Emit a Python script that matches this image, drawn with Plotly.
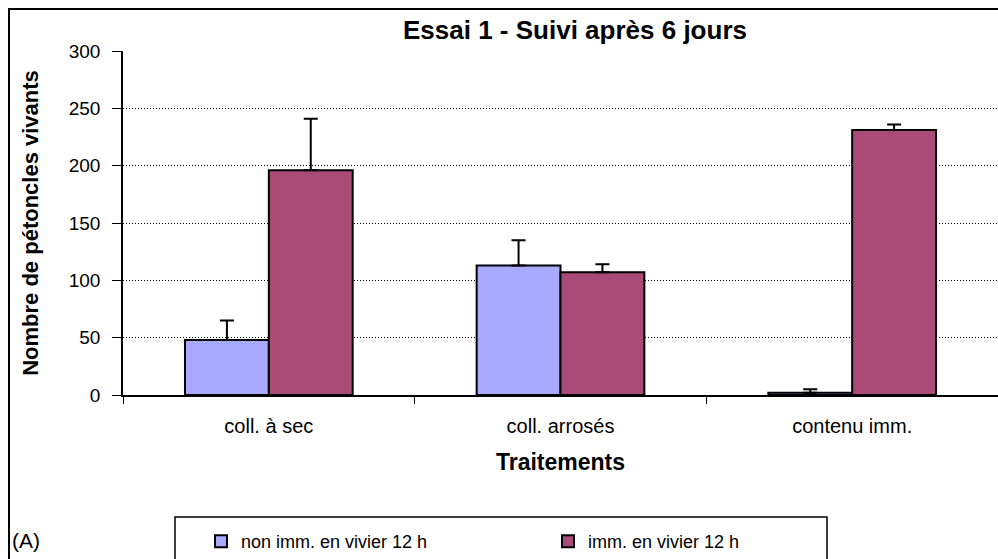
import plotly.graph_objects as go

categories = ["coll. à sec", "coll. arrosés", "contenu imm."]
series_names = ["non imm. en vivier 12 h", "imm. en vivier 12 h"]
non_imm = [48, 113, 2]
non_imm_err = [17, 22, 3]
imm = [196, 107, 231]
imm_err = [45, 7, 5]
y_ticks = [0, 50, 100, 150, 200, 250, 300]

colors = ["#A9AAFF", "#AA4A76"]
font = "Liberation Sans, Arial, sans-serif"

fig = go.Figure()
for name, vals, errs, col in [(series_names[0], non_imm, non_imm_err, colors[0]),
                              (series_names[1], imm, imm_err, colors[1])]:
    fig.add_trace(go.Bar(
        x=categories, y=vals, name=name,
        marker=dict(color=col, line=dict(color="black", width=2)),
        error_y=dict(type="data", array=errs, arrayminus=[0] * len(errs), symmetric=False,
                     color="black", thickness=2, width=7),
    ))

W, H = 998, 559
L, R, T, B = 123, 0, 51, 164
pw = W - L - R
ph = H - T - B

def px_x(p):
    return (p - L) / pw

def px_y(p):
    return (H - B - p) / ph

fig.update_layout(
    width=W, height=H,
    margin=dict(l=L, r=R, t=T, b=B, autoexpand=False),
    paper_bgcolor="white", plot_bgcolor="white",
    barmode="group", bargap=0.425, bargroupgap=0,
    font=dict(family=font, size=18, color="black"),
    title=dict(text="<b>Essai 1 - Suivi après 6 jours</b>", xref="paper", x=px_x(575),
               xanchor="center", yref="container", y=1 - 30 / H, yanchor="middle",
               font=dict(size=26)),
    xaxis=dict(
        showline=True, linecolor="black", linewidth=1.5,
        ticks="outside", tickson="boundaries", ticklen=7, tickcolor="black",
        tickfont=dict(size=20), ticklabelstandoff=12,
        title=dict(text="<b>Traitements</b>", font=dict(size=23), standoff=18),
        showgrid=False, automargin=False,
    ),
    yaxis=dict(
        range=[0, 300], tickvals=y_ticks, showline=True, linecolor="black", linewidth=1.5,
        ticks="outside", ticklen=9, tickcolor="black",
        tickfont=dict(size=19), ticklabelstandoff=8,
        showgrid=True, gridcolor="black", griddash="1px,2px", gridwidth=1,
        zeroline=False, automargin=False,
        title=dict(text="<b>Nombre de pétoncles vivants</b>", font=dict(size=22), standoff=24),
    ),
    legend=dict(orientation="h", x=px_x(201), y=px_y(523), xanchor="left", yanchor="top",
                entrywidth=302, entrywidthmode="pixels", font=dict(size=18),
                bgcolor="rgba(0,0,0,0)", borderwidth=0, itemwidth=30),
    showlegend=True,
)

# outer chart border and legend box
fig.add_shape(type="rect", xref="paper", yref="paper",
              x0=px_x(9), x1=px_x(1010), y0=px_y(575), y1=px_y(9),
              line=dict(color="black", width=2), fillcolor="rgba(0,0,0,0)", layer="below")
fig.add_shape(type="rect", xref="paper", yref="paper",
              x0=px_x(175), x1=px_x(827), y0=px_y(575), y1=px_y(517),
              line=dict(color="black", width=1.5), fillcolor="rgba(0,0,0,0)", layer="below")
fig.add_annotation(text="(A)", xref="paper", yref="paper", x=px_x(10), y=px_y(540),
                   xanchor="left", yanchor="middle", showarrow=False, font=dict(size=21))

fig.write_html("out.html", config={"displayModeBar": False},
               post_script="document.body.style.margin='0';document.body.style.overflow='hidden';")
